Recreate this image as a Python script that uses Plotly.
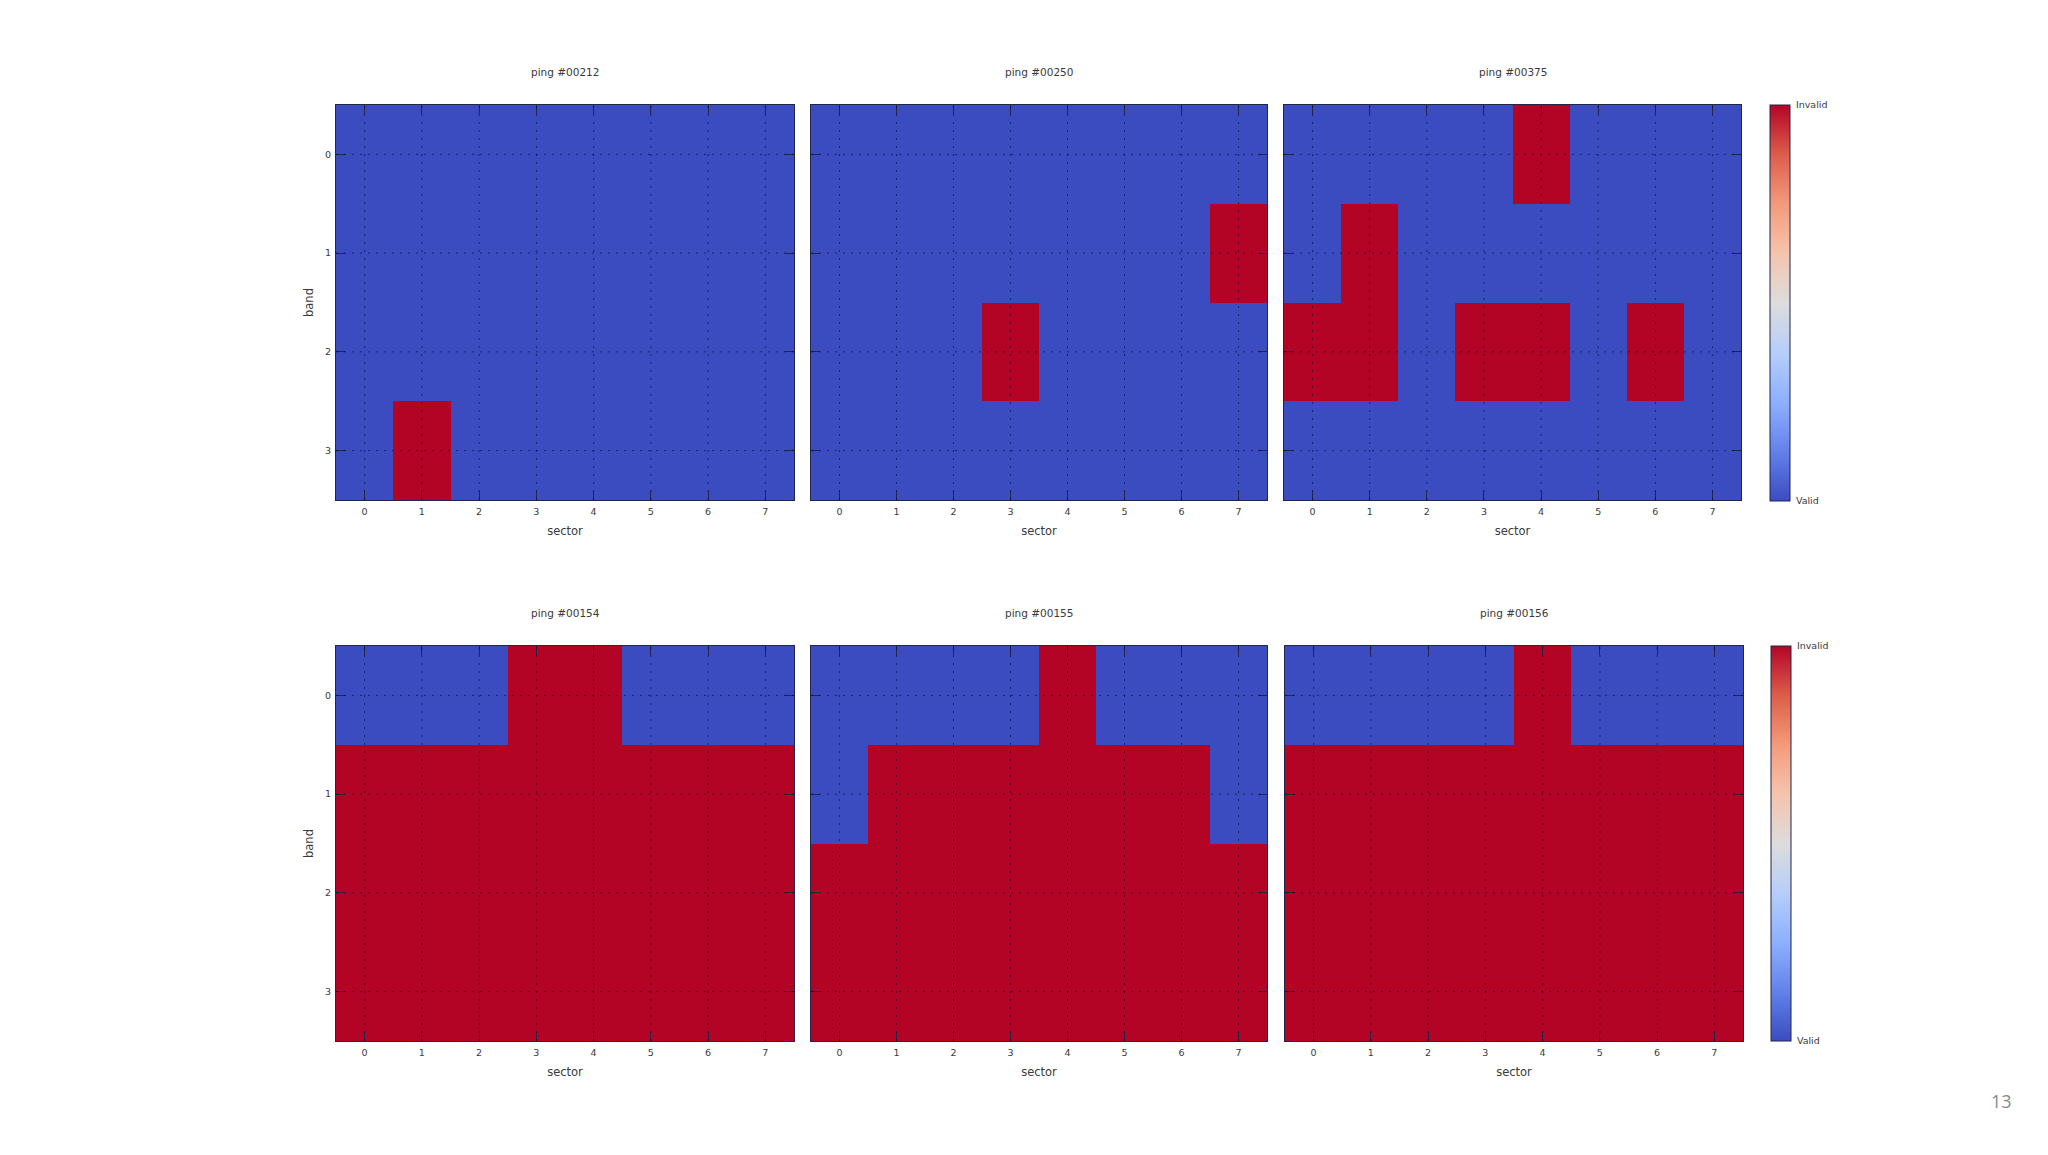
import plotly.graph_objects as go

# sector / band categories
sectors = [0, 1, 2, 3, 4, 5, 6, 7]
bands = [0, 1, 2, 3]

# 0 = valid, 1 = invalid, one row per band
ping_00212 = [[0, 0, 0, 0, 0, 0, 0, 0],
              [0, 0, 0, 0, 0, 0, 0, 0],
              [0, 0, 0, 0, 0, 0, 0, 0],
              [0, 1, 0, 0, 0, 0, 0, 0]]
ping_00250 = [[0, 0, 0, 0, 0, 0, 0, 0],
              [0, 0, 0, 0, 0, 0, 0, 1],
              [0, 0, 0, 1, 0, 0, 0, 0],
              [0, 0, 0, 0, 0, 0, 0, 0]]
ping_00375 = [[0, 0, 0, 0, 1, 0, 0, 0],
              [0, 1, 0, 0, 0, 0, 0, 0],
              [1, 1, 0, 1, 1, 0, 1, 0],
              [0, 0, 0, 0, 0, 0, 0, 0]]
ping_00154 = [[0, 0, 0, 1, 1, 0, 0, 0],
              [1, 1, 1, 1, 1, 1, 1, 1],
              [1, 1, 1, 1, 1, 1, 1, 1],
              [1, 1, 1, 1, 1, 1, 1, 1]]
ping_00155 = [[0, 0, 0, 0, 1, 0, 0, 0],
              [0, 1, 1, 1, 1, 1, 1, 0],
              [1, 1, 1, 1, 1, 1, 1, 1],
              [1, 1, 1, 1, 1, 1, 1, 1]]
ping_00156 = [[0, 0, 0, 0, 1, 0, 0, 0],
              [1, 1, 1, 1, 1, 1, 1, 1],
              [1, 1, 1, 1, 1, 1, 1, 1],
              [1, 1, 1, 1, 1, 1, 1, 1]]

titles = ['ping #00212', 'ping #00250', 'ping #00375',
          'ping #00154', 'ping #00155', 'ping #00156']
pings = [ping_00212, ping_00250, ping_00375, ping_00154, ping_00155, ping_00156]
status_labels = ['Valid', 'Invalid']

# matplotlib "coolwarm"
coolwarm = [[0.0, '#3b4cc0'], [0.125, '#6282ea'], [0.25, '#8db0fe'], [0.375, '#b6cefa'],
            [0.5, '#dddcdc'], [0.625, '#f5c4ac'], [0.75, '#f49a7b'], [0.875, '#dc5d4a'],
            [1.0, '#b40426']]

W, H = 2048, 1155
FONT = 'DejaVu Sans'
DARK = '#23264a'
TEXT = '#3a3a3a'
GRID = 'rgba(0,0,40,0.55)'

# panel boxes in page pixels: left, right, top, bottom
boxes = [(336, 794, 105, 500), (811, 1267, 105, 500), (1284, 1741, 105, 500),
         (336, 794, 646, 1041), (811, 1267, 646, 1041), (1285, 1743, 646, 1041)]
# colourbars: left edge and which panels they sit beside
colorbars = {2: (1769.5, 105, 501), 5: (1771, 646, 1041)}

fig = go.Figure()
layout = {}
annotations = []
shapes = []

for i, (z, title, box) in enumerate(zip(pings, titles, boxes)):
    n = i + 1
    sfx = '' if i == 0 else str(n)
    left, right, top, bottom = box

    trace = go.Heatmap(z=z, x=sectors, y=bands, zmin=0, zmax=1, colorscale=coolwarm,
                       xaxis='x' + sfx, yaxis='y' + sfx, showscale=i in colorbars)
    if i in colorbars:
        cb_left, cb_top, cb_bottom = colorbars[i]
        trace.colorbar = dict(
            x=cb_left / W, xanchor='left', xpad=0,
            y=1 - (cb_top + cb_bottom) / 2 / H, yanchor='middle', ypad=0,
            len=(cb_bottom - cb_top) / H, lenmode='fraction',
            thickness=20, thicknessmode='pixels',
            outlinecolor=DARK, outlinewidth=1, borderwidth=0,
            # invisible ticks just push the labels off the bar
            tickvals=[0, 1], ticktext=status_labels, ticks='outside', ticklen=4,
            tickcolor='rgba(0,0,0,0)',
            tickfont=dict(family=FONT, size=9.5, color=TEXT),
        )
    fig.add_trace(trace)

    layout['xaxis' + sfx] = dict(
        domain=[left / W, right / W], anchor='y' + sfx, range=[-0.5, 7.5],
        tickvals=sectors, ticks='inside', ticklen=9, tickwidth=1, tickcolor=DARK,
        showline=True, linecolor=DARK, linewidth=1, mirror='ticks', showgrid=False,
        zeroline=False, ticklabelstandoff=3, tickfont=dict(family=FONT, size=9.5, color=TEXT),
        title=dict(text='sector', font=dict(family=FONT, size=11.5, color=TEXT), standoff=10),
    )
    layout['yaxis' + sfx] = dict(
        domain=[1 - bottom / H, 1 - top / H], anchor='x' + sfx, range=[3.5, -0.5],
        tickvals=bands, ticks='inside', ticklen=9, tickwidth=1, tickcolor=DARK,
        showline=True, linecolor=DARK, linewidth=1, mirror='ticks', showgrid=False,
        zeroline=False, showticklabels=i % 3 == 0, ticklabelstandoff=2,
        tickfont=dict(family=FONT, size=9.5, color=TEXT),
    )
    if i % 3 == 0:
        layout['yaxis' + sfx]['title'] = dict(text='band', font=dict(family=FONT, size=11.5, color=TEXT),
                                              standoff=9)

    annotations.append(dict(text=title, xref=f'x{sfx} domain', yref=f'y{sfx} domain', x=0.5, y=1,
                            yanchor='middle', yshift=33, showarrow=False,
                            font=dict(family=FONT, size=10.5, color=TEXT)))

    # dotted grid has to sit on top of the heatmap, so shapes rather than axis grid
    for s in sectors:
        shapes.append(dict(type='line', xref='x' + sfx, yref=f'y{sfx} domain', x0=s, x1=s, y0=0, y1=1,
                           line=dict(color=GRID, width=1, dash='2px,6px'), layer='above'))
    for b in bands:
        shapes.append(dict(type='line', xref=f'x{sfx} domain', yref='y' + sfx, x0=0, x1=1, y0=b, y1=b,
                           line=dict(color=GRID, width=1, dash='2px,6px'), layer='above'))

# slide number
annotations.append(dict(text='13', xref='paper', yref='paper', x=2001 / W, y=1 - 1101 / H,
                        xanchor='center', yanchor='middle', showarrow=False,
                        font=dict(family='Open Sans', size=18, color='#8a8a8a')))

fig.update_layout(width=W, height=H, margin=dict(l=0, r=0, t=0, b=0), autosize=False,
                  paper_bgcolor='white', plot_bgcolor='white', showlegend=False,
                  annotations=annotations, shapes=shapes, **layout)

fig.write_html("out.html", config=dict(displayModeBar=False),
               post_script="document.body.style.margin='0';")
